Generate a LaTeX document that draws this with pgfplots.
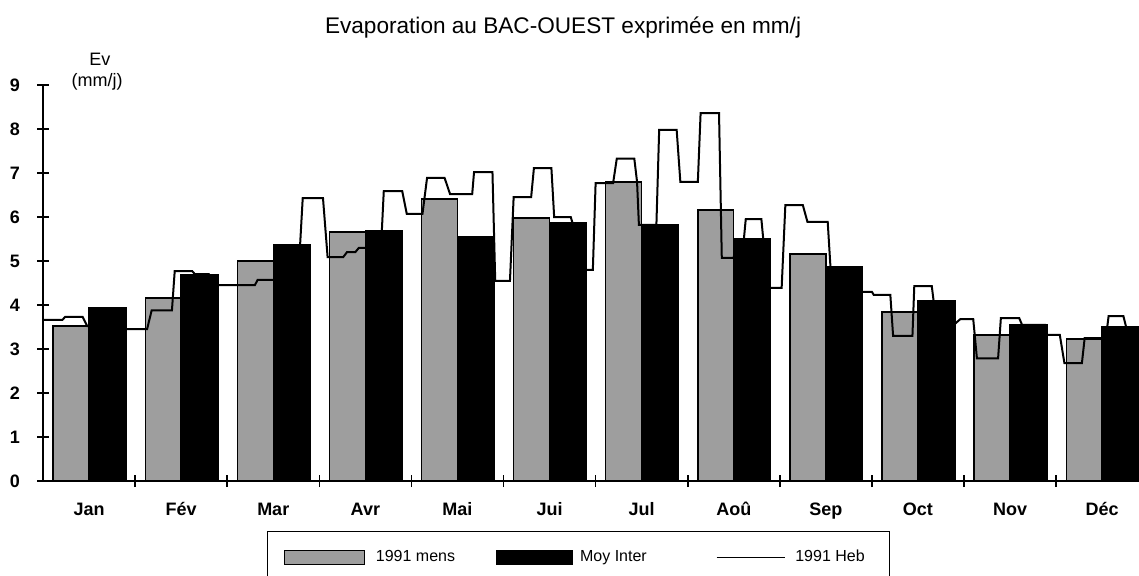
\documentclass[border=0pt]{standalone}
\usepackage{fontspec}
\setmainfont{Liberation Sans}
\usepackage{pgfplots}
\usepackage{pgfplotstable}
\pgfplotsset{compat=1.18}

\pgfplotstableread{
i mens moy
0 3.52 3.93
1 4.16 4.70
2 5.00 5.36
3 5.66 5.68
4 6.41 5.55
5 5.98 5.86
6 6.80 5.82
7 6.16 5.50
8 5.16 4.86
9 3.84 4.09
10 3.32 3.55
11 3.23 3.50
}\bardata

\begin{document}
\begin{tikzpicture}
\begin{axis}[
  scale only axis, width=548pt, height=198pt,
  xmin=0, xmax=11.9, ymin=0, ymax=9,
  enlargelimits=false, clip mode=individual,
  axis x line=bottom, axis y line=left,
  axis line style={-, line width=1pt},
  tick align=center, major tick length=6pt,
  tick style={line width=0.8pt, black},
  xtick={1,...,11}, xticklabels={},
  extra x ticks={0.5,1.5,2.5,3.5,4.5,5.5,6.5,7.5,8.5,9.5,10.5,11.5},
  extra x tick labels={Jan,Fév,Mar,Avr,Mai,Jui,Jul,Aoû,Sep,Oct,Nov,Déc},
  extra x tick style={major tick length=0pt,
     tick label style={font=\bfseries\fontsize{9}{10}\selectfont, anchor=north,
       text height=6.6pt, text depth=0pt, yshift=-7pt}},
  ytick={0,...,9},
  /pgf/number format/assume math mode=true,
  yticklabel style={font=\bfseries\fontsize{9}{10}\selectfont, xshift=-5pt},
  legend columns=3,
  legend style={at={(0.2044,-0.1263)}, anchor=north west, draw=black, line width=0.7pt,
     inner xsep=8pt, inner ysep=9pt, column sep=0pt,
     nodes={inner sep=0pt, font=\fontsize{8}{9}\selectfont}},
]
\addlegendimage{legend image code/.code={\draw[fill=black!38, draw=black, line width=0.6pt] (0pt,-3.5pt) rectangle (40pt,3.5pt);}}
\addlegendentry{\makebox[65.5pt][l]{\hspace*{5.5pt}1991 mens}}
\addlegendimage{legend image code/.code={\draw[fill=black, draw=black, line width=0.6pt] (0pt,-3.5pt) rectangle (38pt,3.5pt);}}
\addlegendentry{\makebox[71.5pt][l]{\hspace*{3.5pt}Moy Inter}}
\addlegendimage{legend image code/.code={\draw[black, line width=0.6pt] (0pt,0pt) -- (34pt,0pt);}}
\addlegendentry{\makebox[44pt][l]{\hspace*{5pt}1991 Heb}}

\addplot[ybar, bar width=0.39, bar shift=0.305, fill=black!38, draw=black, line width=0.7pt, forget plot]
  table[x=i, y=mens]{\bardata};

\addplot[sharp plot, black, line width=1pt, forget plot] coordinates {
(0.00,3.66) (0.21,3.66) (0.24,3.73) (0.43,3.73) (0.48,3.52) (0.55,3.52) (0.58,3.45)
(1.13,3.45) (1.18,3.88) (1.40,3.88) (1.43,4.77) (1.62,4.77) (1.65,4.70) (1.80,4.70)
(1.83,4.45) (2.30,4.45) (2.33,4.57) (2.77,4.57) (2.82,6.43) (3.04,6.43) (3.09,5.09)
(3.26,5.09) (3.30,5.20) (3.39,5.20) (3.43,5.30) (3.67,5.30) (3.70,6.59) (3.90,6.59)
(3.95,6.07) (4.12,6.07) (4.17,6.89) (4.36,6.89) (4.42,6.52) (4.66,6.52) (4.68,7.02)
(4.88,7.02) (4.91,4.55) (5.07,4.55) (5.11,6.45) (5.30,6.45) (5.33,7.11) (5.52,7.11)
(5.55,6.00) (5.73,6.00) (5.75,5.86) (5.86,5.86) (5.89,4.80) (5.97,4.80) (6.00,6.77)
(6.19,6.77) (6.23,7.33) (6.42,7.33) (6.45,6.80) (6.47,5.82) (6.66,5.82) (6.69,7.98)
(6.88,7.98) (6.92,6.80) (7.11,6.80) (7.14,8.36) (7.34,8.36) (7.37,5.07) (7.50,5.07)
(7.52,5.50) (7.61,5.50) (7.63,5.95) (7.80,5.95) (7.82,5.50) (7.87,5.50) (7.88,4.39)
(8.02,4.39) (8.06,6.27) (8.25,6.27) (8.30,5.89) (8.52,5.89) (8.55,4.86) (8.85,4.86)
(8.88,4.30) (9.00,4.30) (9.02,4.23) (9.20,4.23) (9.23,3.30) (9.44,3.30) (9.46,4.43)
(9.65,4.43) (9.67,4.09) (9.88,4.09) (9.90,3.57) (9.96,3.68) (10.10,3.68) (10.14,2.79)
(10.37,2.79) (10.40,3.70) (10.60,3.70) (10.63,3.55) (10.88,3.55) (10.90,3.32)
(11.04,3.32) (11.09,2.68) (11.28,2.68) (11.31,3.25) (11.54,3.25) (11.57,3.75)
(11.73,3.75) (11.76,3.50) (11.90,3.50)
};

\addplot[ybar, bar width=0.40, bar shift=0.70, fill=black, draw=black, line width=0.7pt, forget plot]
  table[x=i, y=moy]{\bardata};

\node[font=\fontsize{11.3}{13}\selectfont, anchor=base] at (rel axis cs:0.4745,1.1313)
  {Evaporation au BAC-OUEST exprimée en mm/j};
\node[font=\fontsize{9}{10}\selectfont, anchor=base] at (rel axis cs:0.052,1.0505) {Ev};
\node[font=\fontsize{9}{10}\selectfont, anchor=base] at (rel axis cs:0.0493,0.9974) {(mm/j)};
\end{axis}
\pgfresetboundingbox
\useasboundingbox (-21.5pt,-47pt) rectangle (548pt,240.5pt);
\end{tikzpicture}
\end{document}
